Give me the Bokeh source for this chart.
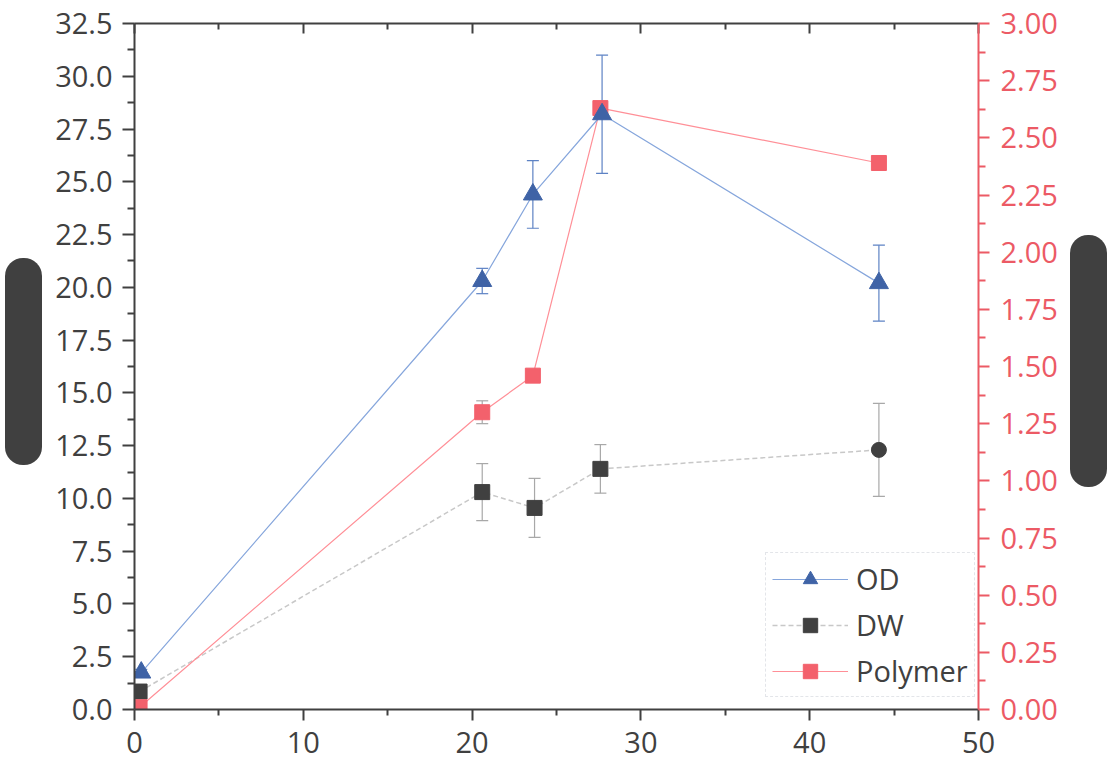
from bokeh.plotting import figure
from bokeh.models import (ColumnDataSource, Range1d, LinearAxis, FixedTicker,
                          PrintfTickFormatter, Whisker, TeeHead, Legend, LegendItem, Div)
from bokeh.layouts import row
from bokeh.embed import file_html
from bokeh.resources import INLINE

# ---- data ----
x_od = [0.4, 20.6, 23.6, 27.7, 44.1]
od = [1.75, 20.3, 24.4, 28.2, 20.2]
od_err = [0.15, 0.6, 1.6, 2.8, 1.8]

x_dw = [0.3, 20.6, 23.7, 27.6, 44.1]
dw = [0.85, 10.3, 9.55, 11.4, 12.3]
dw_err = [0.1, 1.35, 1.4, 1.15, 2.2]
dw_markers = ["square", "square", "square", "square", "circle"]

x_poly = [0.3, 20.6, 23.6, 27.6, 44.1]
polymer = [0.01, 1.30, 1.46, 2.63, 2.39]
poly_err = [0.01, 0.05, 0.01, 0.02, 0.02]

left_ticks = [0, 2.5, 5, 7.5, 10, 12.5, 15, 17.5, 20, 22.5, 25, 27.5, 30, 32.5]
right_ticks = [0, 0.25, 0.5, 0.75, 1.0, 1.25, 1.5, 1.75, 2.0, 2.25, 2.5, 2.75, 3.0]
x_ticks = [0, 10, 20, 30, 40, 50]

FONT = "Open Sans"
DARK = "#404040"
RED = "#ec5a65"
BLUE_M = "#3f63a6"
BLUE_L = "#86a6dc"
RED_M = "#f3616c"
RED_L = "#ff8f97"
GRAY_L = "#c8c8c8"
FS = "29px"

p = figure(width=1026, height=761, output_backend="svg", toolbar_location=None,
           x_range=Range1d(0, 50), y_range=Range1d(0, 32.5),
           min_border_left=92, min_border_right=90, min_border_top=23,
           min_border_bottom=52)
p.extra_y_ranges = {"right": Range1d(0, 3.0)}
p.grid.visible = False
p.outline_line_color = None
p.background_fill_color = "white"
p.border_fill_color = "white"

def style_axis(ax, color, label_color):
    ax.axis_line_color = color
    ax.axis_line_width = 2
    ax.major_tick_line_color = color
    ax.minor_tick_line_color = color
    ax.major_tick_line_width = 2
    ax.minor_tick_line_width = 2
    ax.major_label_text_color = label_color
    ax.major_label_text_font = FONT
    ax.major_label_text_font_size = FS

# bottom axis
xa = p.xaxis[0]
xa.ticker = FixedTicker(ticks=x_ticks, minor_ticks=[5, 15, 25, 35, 45])
style_axis(xa, DARK, DARK)
xa.major_tick_out = 11
xa.major_tick_in = 0
xa.minor_tick_out = 6
xa.minor_tick_in = 0
xa.major_label_standoff = 11

# left axis
ya = p.yaxis[0]
ya.ticker = FixedTicker(ticks=left_ticks, minor_ticks=[1.25 + 2.5 * i for i in range(13)])
ya.formatter = PrintfTickFormatter(format="%.1f")
style_axis(ya, DARK, DARK)
ya.major_tick_out = 12
ya.major_tick_in = 0
ya.minor_tick_out = 7
ya.minor_tick_in = 0
ya.major_label_standoff = 10

# right axis
ra = LinearAxis(y_range_name="right",
                ticker=FixedTicker(ticks=right_ticks, minor_ticks=[0.125 + 0.25 * i for i in range(12)]),
                formatter=PrintfTickFormatter(format="%.2f"))
style_axis(ra, RED, RED)
ra.major_tick_out = 11
ra.major_tick_in = 0
ra.minor_tick_out = 7
ra.minor_tick_in = 0
ra.major_label_standoff = 11
p.add_layout(ra, "right")

# top axis (ticks only, inward)
ta = LinearAxis(ticker=FixedTicker(ticks=x_ticks, minor_ticks=[5, 15, 25, 35, 45]))
style_axis(ta, DARK, DARK)
ta.major_label_overrides = {t: "" for t in x_ticks}
ta.major_tick_in = 10
ta.major_tick_out = 0
ta.minor_tick_in = 6
ta.minor_tick_out = 0
ta.major_label_standoff = 0
p.add_layout(ta, "above")

# sources
s_od = ColumnDataSource(dict(x=x_od, y=od, lo=[a - b for a, b in zip(od, od_err)],
                             hi=[a + b for a, b in zip(od, od_err)]))
s_dw = ColumnDataSource(dict(x=x_dw, y=dw, m=dw_markers, lo=[a - b for a, b in zip(dw, dw_err)],
                             hi=[a + b for a, b in zip(dw, dw_err)]))
s_po = ColumnDataSource(dict(x=x_poly, y=polymer, lo=[a - b for a, b in zip(polymer, poly_err)],
                             hi=[a + b for a, b in zip(polymer, poly_err)]))

# lines
l_dw = p.line("x", "y", source=s_dw, line_color=GRAY_L, line_width=1.5, line_dash="5 3")
l_po = p.line("x", "y", source=s_po, y_range_name="right", line_color=RED_L, line_width=1.2)
l_od = p.line("x", "y", source=s_od, line_color=BLUE_L, line_width=1.2)

# error bars
def whisk(src, color, rng=None):
    kw = dict(base="x", upper="hi", lower="lo", source=src, line_color=color, line_width=1.2,
              upper_head=TeeHead(size=12, line_color=color, line_width=1.2),
              lower_head=TeeHead(size=12, line_color=color, line_width=1.2))
    w = Whisker(**kw)
    if rng:
        w.y_range_name = rng
    p.add_layout(w)

whisk(s_dw, "#a8a8a8")
whisk(s_po, "#a8a8a8", "right")
whisk(s_od, "#5d82c4")

# markers
m_dw = p.scatter("x", "y", source=s_dw, marker="m", size=15, fill_color=DARK, line_color=DARK)
m_po = p.scatter("x", "y", source=s_po, y_range_name="right", marker="square", size=15,
                 fill_color=RED_M, line_color=RED_M)
m_od = p.scatter("x", "y", source=s_od, marker="triangle", size=19, fill_color=BLUE_M, line_color=BLUE_M)

# legend
legend = Legend(items=[LegendItem(label="OD", renderers=[l_od, m_od]),
                       LegendItem(label="DW", renderers=[l_dw, m_dw]),
                       LegendItem(label="Polymer", renderers=[l_po, m_po])],
                location=(631, 12))
legend.label_text_font = FONT
legend.label_text_font_size = FS
legend.label_text_color = DARK
legend.glyph_width = 76
legend.glyph_height = 36
legend.label_height = 36
legend.spacing = 7
legend.padding = 6
legend.margin = 0
legend.label_standoff = 8
legend.border_line_color = "#c8ccd4"
legend.border_line_dash = "2 2"
legend.border_line_width = 1
legend.background_fill_alpha = 1
p.add_layout(legend, "center")

# redacted axis-title blocks (as in the reference)
left_block = Div(text="", width=37, height=207, margin=(258, 0, 0, 5),
                 styles={"background-color": DARK, "border-radius": "18px"})
right_block = Div(text="", width=37, height=252, margin=(235, 0, 0, 2),
                  styles={"background-color": DARK, "border-radius": "18px"})

layout = row(left_block, p, right_block)

open("out.html", "w").write(file_html(layout, INLINE))
